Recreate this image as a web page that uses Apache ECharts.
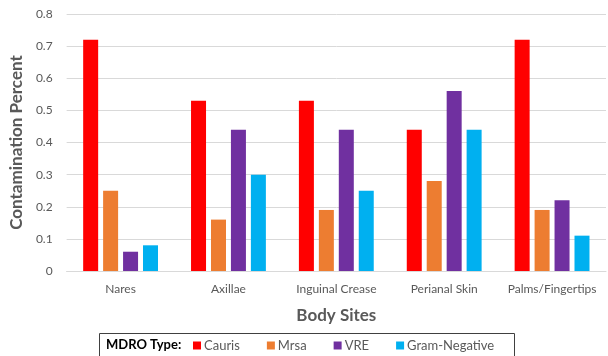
<!DOCTYPE html>
<html><head><meta charset="utf-8">
<script src="https://cdn.jsdelivr.net/npm/echarts@6/dist/echarts.min.js"></script>
<style>html,body{margin:0;padding:0;background:#fff}#c{width:608px;height:356px}</style>
</head><body><div id="c"></div>
<script>
const categories = ['Nares', 'Axillae', 'Inguinal Crease', 'Perianal Skin', 'Palms/Fingertips'];
const seriesNames = ['Cauris', 'Mrsa', 'VRE', 'Gram-Negative'];
const cauris = [0.72, 0.53, 0.53, 0.44, 0.72];
const mrsa = [0.25, 0.16, 0.19, 0.28, 0.19];
const vre = [0.06, 0.44, 0.44, 0.56, 0.22];
const gramNegative = [0.08, 0.30, 0.25, 0.44, 0.11];
const colors = ['#ff0000', '#ed7d31', '#7030a0', '#00b0f0'];
const FONT = 'Lato';
const values = [cauris, mrsa, vre, gramNegative];

const chart = echarts.init(document.getElementById('c'), null, {renderer: 'canvas'});
chart.setOption({
  animation: false,
  textStyle: {fontFamily: FONT},
  grid: {left: 66, right: 2, top: 14, bottom: 85, containLabel: false},
  xAxis: {
    type: 'category', data: categories,
    axisLine: {show: true, lineStyle: {color: '#d9d9d9', width: 1}},
    axisTick: {show: false},
    axisLabel: {color: '#595959', fontSize: 12, fontFamily: FONT, margin: 12, interval: 0},
    name: 'Body Sites', nameLocation: 'middle', nameGap: 36,
    nameTextStyle: {color: '#595959', fontSize: 17, fontWeight: 'bold', fontFamily: FONT}
  },
  yAxis: {
    type: 'value', min: 0, max: 0.8, interval: 0.1,
    axisLine: {show: false}, axisTick: {show: false},
    splitLine: {lineStyle: {color: '#d9d9d9', width: 1}},
    axisLabel: {color: '#595959', fontSize: 12, fontFamily: FONT, margin: 14,
      formatter: v => (Math.round(v * 10) / 10).toString()},
    name: 'Contamination Percent', nameLocation: 'middle', nameGap: 41,
    nameTextStyle: {color: '#595959', fontSize: 17, fontWeight: 'bold', fontFamily: FONT}
  },
  legend: {
    left: 188, top: 334, itemWidth: 8, itemHeight: 8, itemGap: 27,
    icon: 'rect',
    textStyle: {color: '#595959', fontSize: 13, fontFamily: FONT, padding: [0, 0, 0, -2]},
    data: seriesNames
  },
  graphic: [
    {type: 'rect', left: 97, top: 331, shape: {width: 415, height: 40},
      style: {fill: 'none', stroke: '#404040', lineWidth: 1}},
    {type: 'text', left: 106, top: 338,
      style: {text: 'MDRO Type:', fill: '#000', font: 'bold 13px ' + FONT}}
  ],
  series: seriesNames.map((n, i) => ({
    name: n, type: 'bar', data: values[i],
    barWidth: 15, barGap: '33%', barCategoryGap: '30%',
    itemStyle: {color: colors[i]}
  }))
});
</script></body></html>
